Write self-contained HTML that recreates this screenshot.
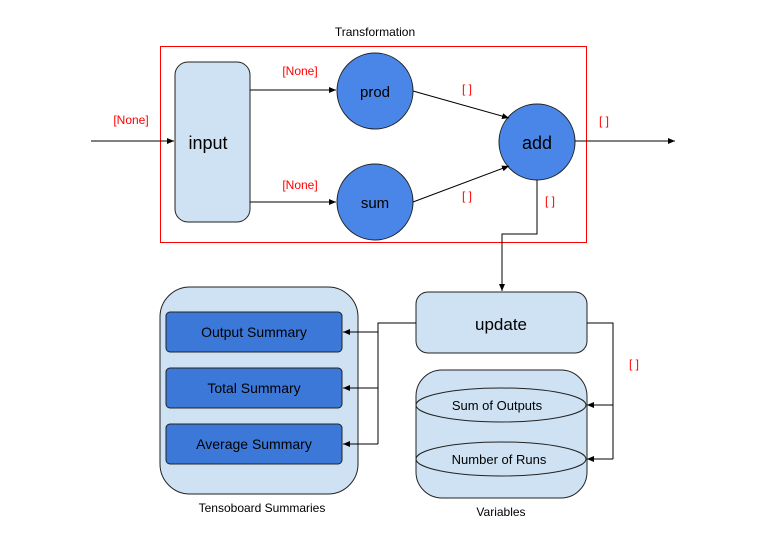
<!DOCTYPE html>
<html><head><meta charset="utf-8"><style>
html,body{margin:0;padding:0;background:#fff;}
svg{display:block;font-family:"Liberation Sans",Arial,sans-serif;}
</style></head><body>
<svg width="779" height="537" viewBox="0 0 779 537" xmlns="http://www.w3.org/2000/svg">
<defs>
<marker id="a" markerWidth="8" markerHeight="8" refX="7" refY="4" orient="auto" markerUnits="userSpaceOnUse">
<path d="M0,1 L7,4 L0,7 z" fill="#000"/></marker>
</defs>
<rect width="779" height="537" fill="#fff"/>
<text x="375" y="36" font-size="12" text-anchor="middle" fill="#000">Transformation</text>
<rect x="160.5" y="46.5" width="426" height="196" fill="none" stroke="#f00" stroke-width="1"/>
<rect x="175" y="62" width="75" height="160" rx="13" fill="#cfe2f3" stroke="#222"/>
<text x="208" y="149" font-size="18" text-anchor="middle">input</text>
<circle cx="375" cy="91" r="38" fill="#4a86e8" stroke="#222"/>
<text x="375" y="97" font-size="15" text-anchor="middle">prod</text>
<circle cx="375" cy="202" r="38" fill="#4a86e8" stroke="#222"/>
<text x="375" y="208" font-size="15" text-anchor="middle">sum</text>
<circle cx="537" cy="142" r="38" fill="#4a86e8" stroke="#222"/>
<text x="537" y="149" font-size="18" text-anchor="middle">add</text>
<rect x="416" y="292" width="171" height="61" rx="12" fill="#cfe2f3" stroke="#222"/>
<text x="501" y="330" font-size="17" text-anchor="middle">update</text>
<rect x="416" y="370" width="171" height="128" rx="26" fill="#cfe2f3" stroke="#222"/>
<ellipse cx="501" cy="405" rx="85" ry="17" fill="#cfe2f3" stroke="#222"/>
<text x="497" y="410" font-size="13" text-anchor="middle">Sum of Outputs</text>
<ellipse cx="501" cy="459" rx="85" ry="17" fill="#cfe2f3" stroke="#222"/>
<text x="499" y="464" font-size="13" text-anchor="middle">Number of Runs</text>
<text x="501" y="516" font-size="12" text-anchor="middle">Variables</text>
<rect x="160" y="287" width="198" height="207" rx="30" fill="#cfe2f3" stroke="#222"/>
<rect x="166" y="312" width="176" height="40" rx="4" fill="#3c78d8" stroke="#222"/>
<text x="254" y="337" font-size="14" text-anchor="middle">Output Summary</text>
<rect x="166" y="368" width="176" height="40" rx="4" fill="#3c78d8" stroke="#222"/>
<text x="254" y="393" font-size="14" text-anchor="middle">Total Summary</text>
<rect x="166" y="424" width="176" height="40" rx="4" fill="#3c78d8" stroke="#222"/>
<text x="254" y="449" font-size="14" text-anchor="middle">Average Summary</text>
<text x="262" y="512" font-size="12" text-anchor="middle">Tensoboard Summaries</text>
<g stroke="#000" stroke-width="1" fill="none">
<line x1="91" y1="141" x2="174" y2="141" marker-end="url(#a)"/>
<line x1="250" y1="90" x2="336" y2="90" marker-end="url(#a)"/>
<line x1="250" y1="202" x2="336" y2="202" marker-end="url(#a)"/>
<line x1="413" y1="91" x2="509" y2="118" marker-end="url(#a)"/>
<line x1="413" y1="202" x2="509" y2="166" marker-end="url(#a)"/>
<line x1="575" y1="141" x2="675" y2="141" marker-end="url(#a)"/>
<polyline points="537,180 537,234 502,234 502,291" marker-end="url(#a)"/>
<polyline points="416,323 378,323 378,444"/>
<line x1="378" y1="332" x2="343" y2="332" marker-end="url(#a)"/>
<line x1="378" y1="388" x2="343" y2="388" marker-end="url(#a)"/>
<line x1="378" y1="444" x2="343" y2="444" marker-end="url(#a)"/>
<polyline points="587,323 613,323 613,459"/>
<line x1="613" y1="405" x2="587" y2="405" marker-end="url(#a)"/>
<line x1="613" y1="459" x2="587" y2="459" marker-end="url(#a)"/>
</g>
<g fill="#f00" font-size="12" text-anchor="middle">
<text x="131" y="124">[None]</text>
<text x="300" y="75">[None]</text>
<text x="300" y="189">[None]</text>
<text x="467" y="93">[ ]</text>
<text x="467" y="200">[ ]</text>
<text x="604" y="125">[ ]</text>
<text x="550" y="205">[ ]</text>
<text x="634" y="368">[ ]</text>
</g>
</svg>
</body></html>
